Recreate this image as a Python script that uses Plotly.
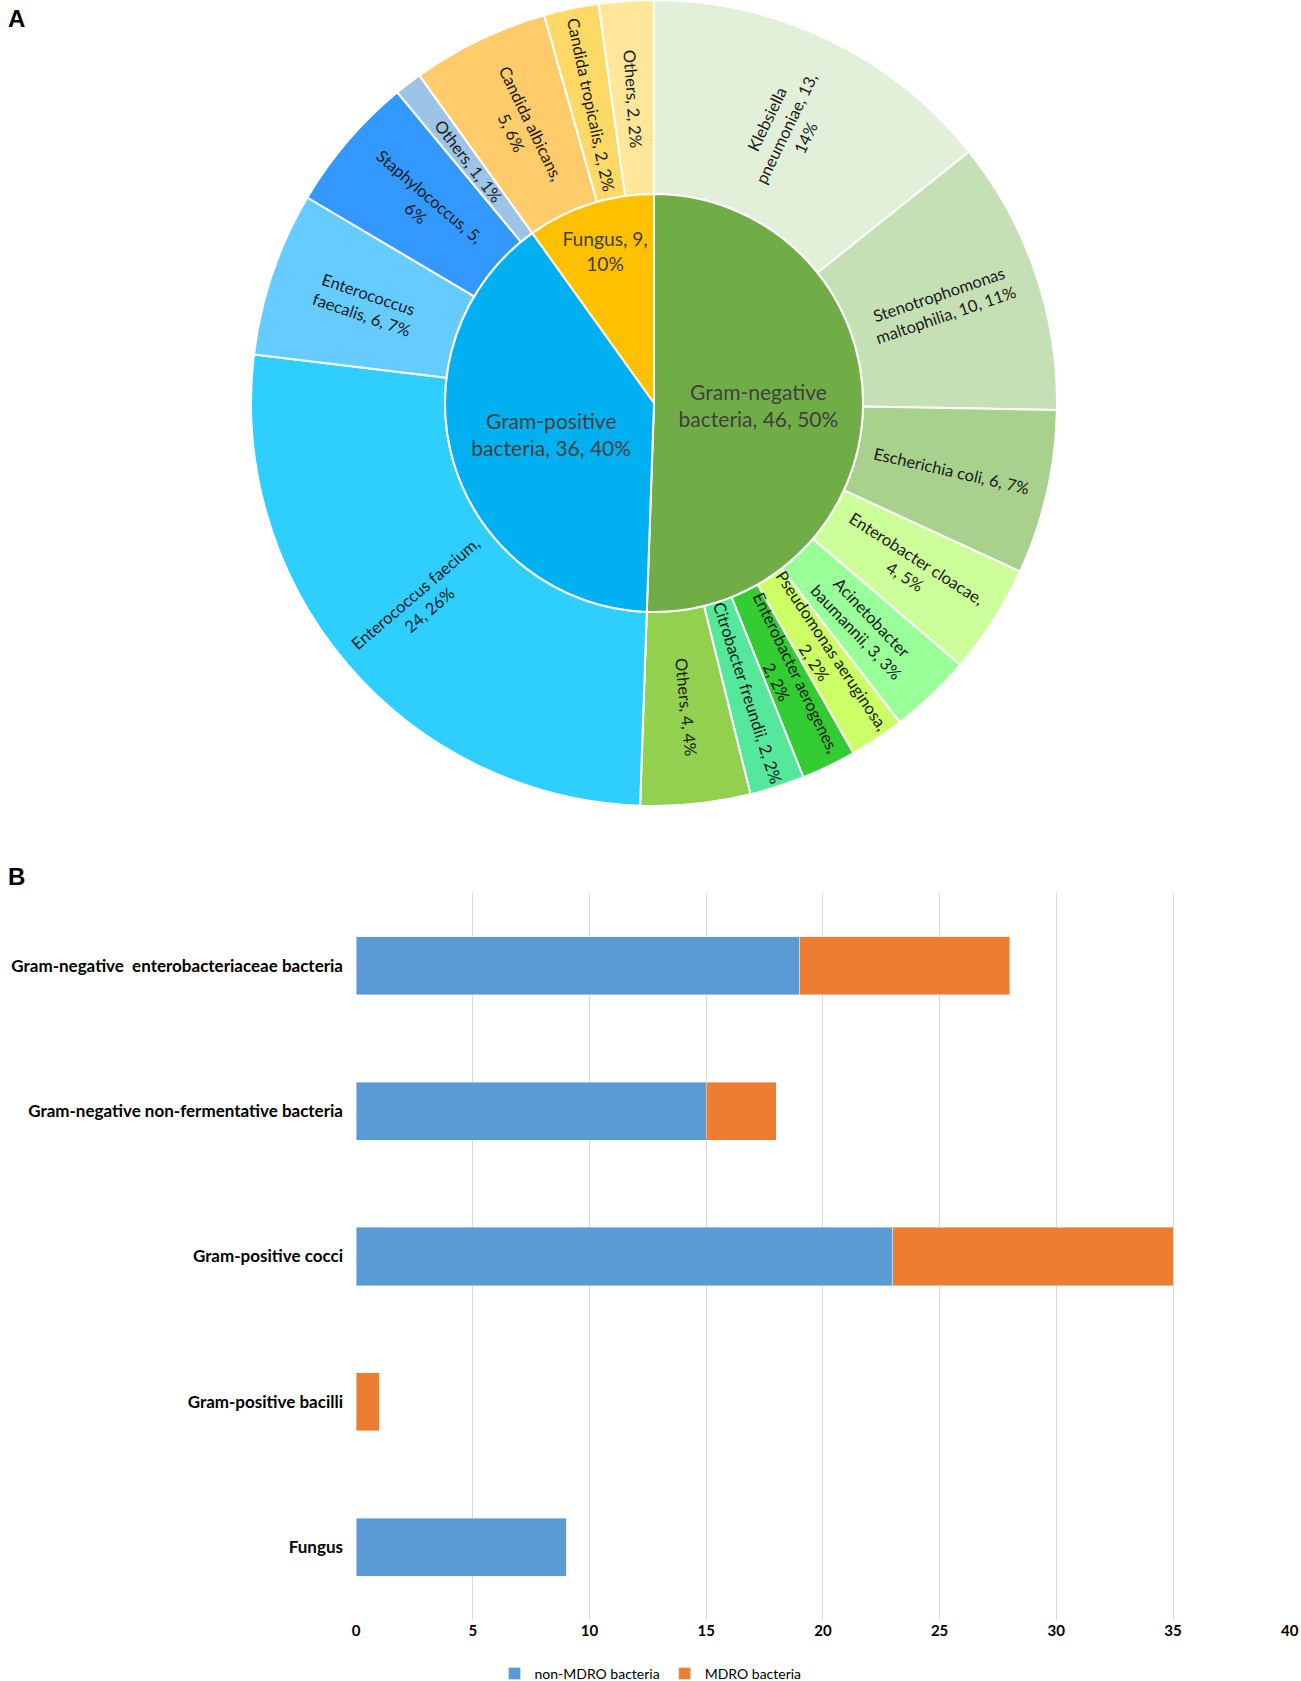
import math
import plotly.graph_objects as go

# ---------------- Panel A data ----------------
inner_labels = ["Gram-negative bacteria", "Gram-positive bacteria", "Fungus"]
inner_values = [46, 36, 9]
inner_text = ["Gram-negative<br>bacteria, 46, 50%", "Gram-positive<br>bacteria, 36, 40%", "Fungus, 9,<br>10%"]
inner_colors = ["#70AD47", "#00B0F0", "#FFC000"]

outer_labels = [
    "Klebsiella pneumoniae", "Stenotrophomonas maltophilia", "Escherichia coli",
    "Enterobacter cloacae", "Acinetobacter baumannii", "Pseudomonas aeruginosa",
    "Enterobacter aerogenes", "Citrobacter freundii", "Others (GN)",
    "Enterococcus faecium", "Enterococcus faecalis", "Staphylococcus", "Others (GP)",
    "Candida albicans", "Candida tropicalis", "Others (F)",
]
outer_values = [13, 10, 6, 4, 3, 2, 2, 2, 4, 24, 6, 5, 1, 5, 2, 2]
outer_text = [
    "Klebsiella<br>pneumoniae, 13,<br>14%",
    "Stenotrophomonas<br>maltophilia, 10, 11%",
    "Escherichia coli, 6, 7%",
    "Enterobacter cloacae,<br>4, 5%",
    "Acinetobacter<br>baumannii, 3, 3%",
    "Pseudomonas aeruginosa,<br>2, 2%",
    "Enterobacter aerogenes,<br>2, 2%",
    "Citrobacter freundii, 2, 2%",
    "Others, 4, 4%",
    "Enterococcus faecium,<br>24, 26%",
    "Enterococcus<br>faecalis, 6, 7%",
    "Staphylococcus, 5,<br>6%",
    "Others, 1, 1%",
    "Candida albicans,<br>5, 6%",
    "Candida tropicalis, 2, 2%",
    "Others, 2, 2%",
]
outer_colors = [
    "#E2F0D9", "#C5E0B4", "#A9D18E", "#CCFF99", "#99FF99", "#CCFF66",
    "#33CC33", "#55E89B", "#92D050",
    "#2ECFFF", "#66CCFF", "#3399FF", "#9DC3E6",
    "#FFCB6B", "#FFD966", "#FFE699",
]

# ---------------- Panel B data ----------------
bar_categories = [
    "Gram-negative  enterobacteriaceae bacteria",
    "Gram-negative non-fermentative bacteria",
    "Gram-positive cocci",
    "Gram-positive bacilli",
    "Fungus",
]
non_mdro = [19, 15, 23, 0, 9]
mdro = [9, 3, 12, 1, 0]
x_ticks = [0, 5, 10, 15, 20, 25, 30, 35, 40]

W, H = 1301, 1681
FONT = "Lato"

# Pie geometry (pixels)
cx, cy = 654, 403
R_out, R_in = 403, 209
R_lab = 305

def clamp(v):
    return min(1.0, max(0.0, v))

def px_dom_x(a, b):
    return [clamp(a / W), clamp(b / W)]

def px_dom_y(top, bottom):
    return [clamp(1 - bottom / H), clamp(1 - top / H)]

fig = go.Figure()

fig.add_trace(go.Pie(
    labels=outer_labels, values=outer_values, textinfo="none",
    sort=False, direction="clockwise", rotation=0,
    hole=R_in / R_out,
    marker=dict(colors=outer_colors, line=dict(color="white", width=2)),
    domain=dict(x=px_dom_x(cx - R_out, cx + R_out), y=px_dom_y(cy - R_out, cy + R_out)),
    showlegend=False, hoverinfo="label+value",
))

fig.add_trace(go.Pie(
    labels=inner_labels, values=inner_values, text=inner_text,
    texttemplate="%{text}", textposition="inside",
    insidetextorientation="horizontal",
    sort=False, direction="clockwise", rotation=0,
    marker=dict(colors=inner_colors, line=dict(color="white", width=2)),
    textfont=dict(family=FONT, size=21, color="#404040"),
    domain=dict(x=px_dom_x(cx - R_in, cx + R_in), y=px_dom_y(cy - R_in, cy + R_in)),
    showlegend=False, hoverinfo="label+value",
))

# Radial labels for the outer ring, placed at each slice's mid-angle
annotations = []
total = sum(outer_values)
cum = 0
for txt, v in zip(outer_text, outer_values):
    mid = (cum + v / 2) / total * 360.0
    cum += v
    th = math.radians(mid)
    px = cx + R_lab * math.sin(th)
    py = cy - R_lab * math.cos(th)
    ang = mid - 90
    while ang > 90:
        ang -= 180
    while ang <= -90:
        ang += 180
    annotations.append(dict(
        text=txt, x=px / W, y=1 - py / H, xref="paper", yref="paper",
        xanchor="center", yanchor="middle", showarrow=False, textangle=ang,
        align="center", font=dict(family=FONT, size=16.5, color="#1a1a1a"),
    ))

fig.add_trace(go.Bar(
    y=bar_categories, x=non_mdro, orientation="h", name="non-MDRO bacteria",
    marker=dict(color="#5B9BD5"), xaxis="x", yaxis="y",
))
fig.add_trace(go.Bar(
    y=bar_categories, x=mdro, orientation="h", name="MDRO bacteria",
    marker=dict(color="#ED7D31"), xaxis="x", yaxis="y",
))

annotations += [
    dict(text="<b>A</b>", x=6 / W, y=1 - 18 / H, xref="paper", yref="paper",
         xanchor="left", yanchor="middle", showarrow=False,
         font=dict(family="Liberation Sans", size=24, color="#000000")),
    dict(text="<b>B</b>", x=6 / W, y=1 - 876 / H, xref="paper", yref="paper",
         xanchor="left", yanchor="middle", showarrow=False,
         font=dict(family="Liberation Sans", size=24, color="#000000")),
]

fig.update_layout(
    width=W, height=H,
    margin=dict(l=0, r=0, t=0, b=0, autoexpand=False),
    paper_bgcolor="white", plot_bgcolor="white",
    barmode="stack", bargap=0.6,
    font=dict(family=FONT, color="#000000"),
    xaxis=dict(
        domain=px_dom_x(356, 1290), range=[0, 40.01], tickvals=x_ticks,
        showgrid=True, gridcolor="#D9D9D9", gridwidth=1, zeroline=False,
        showline=False, ticks="", ticklabeloverflow="allow",
        tickfont=dict(family=FONT, size=15, color="#000000", weight="bold"),
        anchor="y", fixedrange=True, automargin=False,
    ),
    yaxis=dict(
        domain=px_dom_y(893, 1620), autorange="reversed",
        showgrid=False, zeroline=False, showline=False, ticks="",
        ticklabelstandoff=12,
        tickfont=dict(family=FONT, size=17, color="#000000", weight="bold"),
        anchor="x", fixedrange=True, automargin=False,
    ),
    legend=dict(
        orientation="h", x=0.5, xanchor="center", y=1 - 1674 / H, yanchor="middle",
        font=dict(family=FONT, size=14, color="#000000"),
        itemwidth=30, traceorder="normal",
    ),
    annotations=annotations,
)

fig.write_html("out.html", post_script="document.body.style.margin='0';",
               config={"displayModeBar": False})
